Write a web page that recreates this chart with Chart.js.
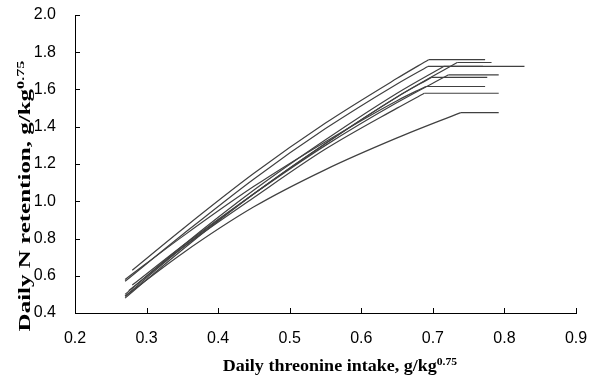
<!DOCTYPE html>
<html>
<head>
<meta charset="utf-8">
<script src="https://cdn.jsdelivr.net/npm/chart.js@4/dist/chart.umd.min.js"></script>
<style>
  html, body { margin: 0; padding: 0; background: #fff; }
</style>
</head>
<body>
<canvas id="myChart" width="596" height="382"></canvas>
<script>
// threonine intake (x) and N retention (y), one pair per line
var intakeA = [0.28, 0.35, 0.45, 0.55, 0.65, 0.694, 0.773];
var retentionA = [0.63, 0.85, 1.15, 1.42, 1.66, 1.76, 1.76];
var intakeB = [0.27, 0.35, 0.45, 0.55, 0.65, 0.693, 0.770];
var retentionB = [0.57, 0.82, 1.12, 1.39, 1.63, 1.724, 1.724];
var intakeC = [0.27, 0.35, 0.45, 0.55, 0.65, 0.734, 0.782];
var retentionC = [0.49, 0.75, 1.04, 1.31, 1.56, 1.745, 1.745];
var intakeD = [0.27, 0.35, 0.45, 0.55, 0.65, 0.715, 0.828];
var retentionD = [0.50, 0.76, 1.06, 1.33, 1.58, 1.724, 1.724];
var intakeE = [0.28, 0.35, 0.45, 0.55, 0.65, 0.722, 0.792];
var retentionE = [0.55, 0.76, 1.04, 1.30, 1.53, 1.679, 1.679];
var intakeF = [0.27, 0.35, 0.45, 0.55, 0.65, 0.698, 0.776];
var retentionF = [0.48, 0.74, 1.04, 1.31, 1.56, 1.665, 1.665];
var intakeG = [0.27, 0.35, 0.45, 0.55, 0.65, 0.690, 0.773];
var retentionG = [0.58, 0.81, 1.08, 1.32, 1.54, 1.616, 1.616];
var intakeH = [0.275, 0.35, 0.45, 0.55, 0.65, 0.688, 0.792];
var retentionH = [0.52, 0.75, 1.02, 1.28, 1.50, 1.58, 1.58];
var intakeI = [0.27, 0.35, 0.45, 0.55, 0.65, 0.739, 0.792];
var retentionI = [0.49, 0.72, 0.97, 1.17, 1.34, 1.476, 1.476];

var series = [
  [intakeA, retentionA], [intakeB, retentionB], [intakeC, retentionC],
  [intakeD, retentionD], [intakeE, retentionE], [intakeF, retentionF],
  [intakeG, retentionG], [intakeH, retentionH], [intakeI, retentionI]
];

var xTitle = 'Daily threonine intake, g/kg';
var yTitle = 'Daily N retention, g/kg';
var titleSup = '0.75';

var lineColor = '#404040';
var datasets = [];
series.forEach(function(s) {
  var pts = s[0].map(function(x, i) { return {x: x, y: s[1][i]}; });
  var n = pts.length;
  // rising curve up to the break point
  datasets.push({
    data: pts.slice(0, n - 1),
    borderColor: lineColor, borderWidth: 1.2,
    pointRadius: 0, fill: false,
    cubicInterpolationMode: 'monotone'
  });
  // flat plateau after the break point
  datasets.push({
    data: pts.slice(n - 2),
    borderColor: lineColor, borderWidth: 1.2,
    pointRadius: 0, fill: false, tension: 0
  });
});

function drawTitle(ctx, main, sup, cx, cy, angle, stretch) {
  ctx.save();
  ctx.translate(cx, cy);
  ctx.rotate(angle);
  ctx.scale(stretch, 1);
  var mainFont = 'bold 17px "Liberation Serif", "Times New Roman", serif';
  var supFont = 'bold 11px "Liberation Serif", "Times New Roman", serif';
  ctx.font = mainFont;
  var w = ctx.measureText(main).width;
  ctx.font = supFont;
  var ws = ctx.measureText(sup).width;
  var x0 = -(w + ws) / 2;
  ctx.fillStyle = '#000';
  ctx.textAlign = 'left';
  ctx.textBaseline = 'alphabetic';
  ctx.font = mainFont;
  ctx.fillText(main, x0, 5);
  ctx.font = supFont;
  ctx.fillText(sup, x0 + w, -1);
  ctx.restore();
}

var frame = {
  id: 'frame',
  afterDraw: function(chart) {
    var ctx = chart.ctx, a = chart.chartArea;
    var xs = chart.scales.x, ys = chart.scales.y;
    ctx.save();
    ctx.strokeStyle = '#000';
    ctx.lineWidth = 1;
    ctx.beginPath();
    xs.ticks.forEach(function(t) {
      var p = Math.round(xs.getPixelForValue(t.value)) + 0.5;
      ctx.moveTo(p, a.bottom);
      ctx.lineTo(p, a.bottom - 5);
    });
    ys.ticks.forEach(function(t) {
      var p = Math.round(ys.getPixelForValue(t.value)) + 0.5;
      ctx.moveTo(a.left, p);
      ctx.lineTo(a.left + 5, p);
    });
    ctx.stroke();
    ctx.restore();
    drawTitle(ctx, xTitle, titleSup, 340, 366, 0, 1.06);
    drawTitle(ctx, yTitle, titleSup, 25, 196, -Math.PI / 2, 1.47);
  }
};

var ctx = document.getElementById('myChart').getContext('2d');
var myChart = new Chart(ctx, {
  type: 'line',
  data: { datasets: datasets },
  plugins: [frame],
  options: {
    responsive: false,
    animation: false,
    layout: { padding: { top: 15, right: 20, left: 0, bottom: 0 } },
    plugins: { legend: { display: false }, tooltip: { enabled: false } },
    scales: {
      x: {
        type: 'linear', min: 0.2, max: 0.9,
        ticks: {
          stepSize: 0.1, padding: 16, color: '#000',
          font: { size: 16, family: '"Liberation Sans", Arial, sans-serif' },
          callback: function(v) { return v.toFixed(1); }
        },
        grid: { drawOnChartArea: false, drawTicks: false },
        border: { color: '#000', width: 1 },
        afterFit: function(s) { s.height = 69; s.paddingLeft = 0; s.paddingRight = 0; }
      },
      y: {
        min: 0.4, max: 2.0,
        ticks: {
          stepSize: 0.2, padding: 19, color: '#000',
          font: { size: 16, family: '"Liberation Sans", Arial, sans-serif' },
          callback: function(v) { return v.toFixed(1); }
        },
        grid: { drawOnChartArea: false, drawTicks: false },
        border: { color: '#000', width: 1 },
        afterFit: function(s) { s.width = 75; s.paddingTop = 0; s.paddingBottom = 0; }
      }
    }
  }
});
</script>
</body>
</html>
